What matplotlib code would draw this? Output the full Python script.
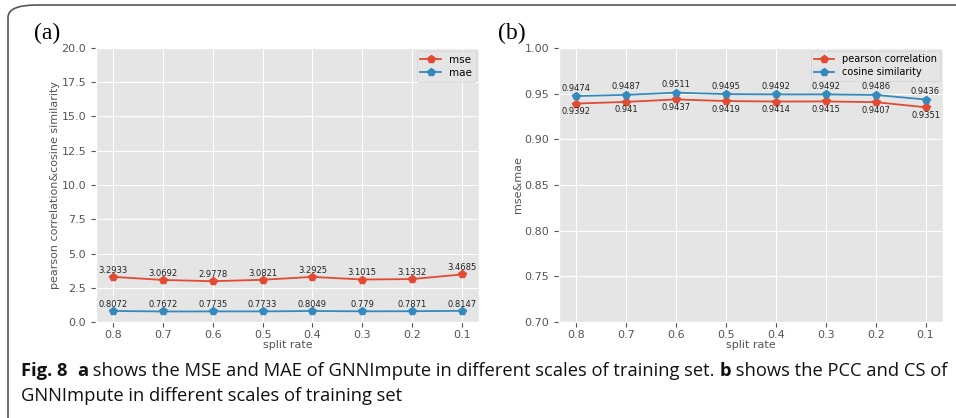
import matplotlib
matplotlib.use("Agg")
import matplotlib.pyplot as plt
from matplotlib.patches import FancyBboxPatch

# data
split_rate = ["0.8", "0.7", "0.6", "0.5", "0.4", "0.3", "0.2", "0.1"]
mse = [3.2933, 3.0692, 2.9778, 3.0821, 3.2925, 3.1015, 3.1332, 3.4685]
mae = [0.8072, 0.7672, 0.7735, 0.7733, 0.8049, 0.779, 0.7871, 0.8147]
pearson = [0.9392, 0.941, 0.9437, 0.9419, 0.9414, 0.9415, 0.9407, 0.9351]
cosine = [0.9474, 0.9487, 0.9511, 0.9495, 0.9492, 0.9492, 0.9486, 0.9436]

plt.style.use("ggplot")
red, blue = "#E24A33", "#348ABD"

fig = plt.figure(figsize=(9.56, 4.18), dpi=100)

# rounded frame round the figure
frame = FancyBboxPatch((8 / 956, -20 / 418), 980 / 956, 433 / 418,
                       boxstyle="round,pad=0,rounding_size=0.03",
                       transform=fig.transFigure, facecolor="none",
                       edgecolor="#555555", linewidth=1.2, clip_on=False)
fig.patches.append(frame)

ax1 = fig.add_axes([96 / 956, 1 - 322 / 418, 383 / 956, 274 / 418])
ax2 = fig.add_axes([559 / 956, 1 - 322 / 418, 384 / 956, 274 / 418])
x = list(range(len(split_rate)))
lab = dict(textcoords="offset points", ha="center", fontsize=6, color="#222222")
leg = dict(loc="upper right", borderaxespad=0.3, labelspacing=0.3, borderpad=0.35)

# (a)
ax1.plot(x, mse, color=red, marker="p", markersize=5.5, linewidth=1.3, label="mse")
ax1.plot(x, mae, color=blue, marker="p", markersize=5.5, linewidth=1.3, label="mae")
for i in x:
    ax1.annotate(str(mse[i]), (i, mse[i]), xytext=(0, 1.5), va="bottom", **lab)
    ax1.annotate(str(mae[i]), (i, mae[i]), xytext=(0, 1.5), va="bottom", **lab)
ax1.set_ylim(0, 20)
ax1.set_yticks([0, 2.5, 5, 7.5, 10, 12.5, 15, 17.5, 20])
ax1.set_ylabel("pearson correlation&cosine similarity", fontsize=8, labelpad=1)
ax1.legend(fontsize=7.5, **leg)

# (b)
ax2.plot(x, pearson, color=red, marker="p", markersize=5.5, linewidth=1.3, label="pearson correlation")
ax2.plot(x, cosine, color=blue, marker="p", markersize=5.5, linewidth=1.3, label="cosine similarity")
for i in x:
    ax2.annotate(str(cosine[i]), (i, cosine[i]), xytext=(0, 2.5), va="bottom", **lab)
    ax2.annotate(str(pearson[i]), (i, pearson[i]), xytext=(0, -2.5), va="top", **lab)
ax2.set_ylim(0.70, 1.00)
ax2.set_yticks([0.70, 0.75, 0.80, 0.85, 0.90, 0.95, 1.00])
ax2.set_ylabel("mse&mae", fontsize=8, labelpad=1)
ax2.legend(fontsize=7, **leg)

for ax in (ax1, ax2):
    ax.set_xticks(x)
    ax.set_xticklabels(split_rate)
    ax.set_xlabel("split rate", fontsize=8, labelpad=0)
    ax.tick_params(labelsize=8, colors="#555555")
    ax.tick_params(axis="x", pad=2)

fig.text(47 / 956, 1 - 33 / 418, "(a)", family="Liberation Serif", fontsize=17,
         ha="center", va="center")
fig.text(512 / 956, 1 - 33 / 418, "(b)", family="Liberation Serif", fontsize=17,
         ha="center", va="center")

# caption, bold and normal pieces placed one after another
cap_font = dict(family="Open Sans", fontsize=13.2, color="#111111")
line1 = [("Fig. 8", "bold"), ("  ", "normal"), ("a", "bold"),
         (" shows the MSE and MAE of GNNImpute in different scales of training set. ", "normal"),
         ("b", "bold"), (" shows the PCC and CS of", "normal")]
renderer = fig.canvas.get_renderer()
xpos = 21
for txt, w in line1:
    t = fig.text(xpos / 956, 1 - 371 / 418, txt, fontweight=w, va="center", ha="left", **cap_font)
    xpos += t.get_window_extent(renderer).width
fig.text(21 / 956, 1 - 396 / 418, "GNNImpute in different scales of training set",
         va="center", ha="left", **cap_font)

fig.savefig("out.png", dpi=100)
